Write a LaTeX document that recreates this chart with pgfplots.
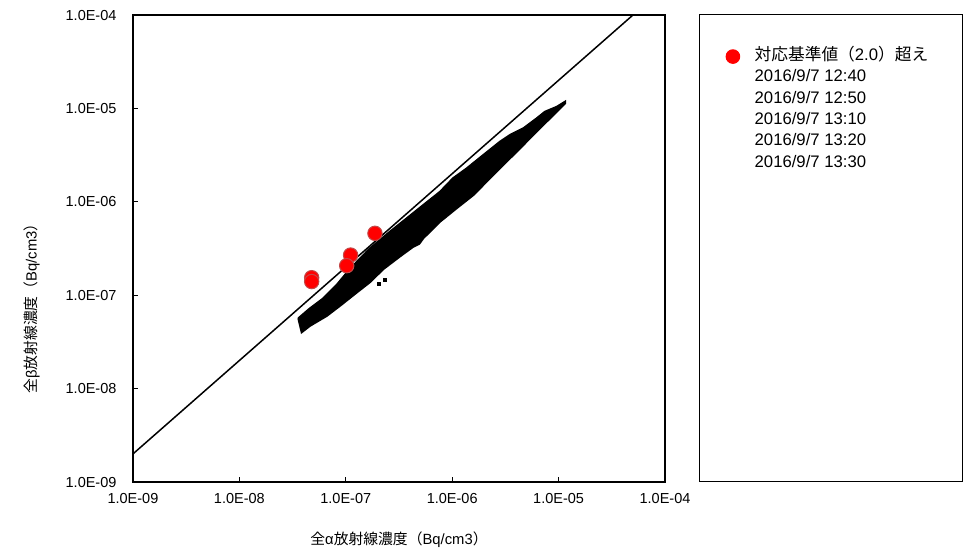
\documentclass[border=0pt]{standalone}
\usepackage{fontspec}
\setmainfont{Liberation Sans}
\newfontfamily\jp{Noto Sans CJK JP}
\usepackage{pgfplots}
\pgfplotsset{compat=1.18}
\definecolor{ptred}{RGB}{255,0,0}
\definecolor{ptedge}{RGB}{196,72,72}

\begin{document}
\begin{tikzpicture}
\useasboundingbox (-133pt,-70pt) rectangle (831pt,482pt);
\begin{axis}[
    scale only axis,
    width=532pt, height=467pt,
    xmode=log, ymode=log,
    xmin=1e-9, xmax=1e-4,
    ymin=1e-9, ymax=1e-4,
    xtick={1e-9,1e-8,1e-7,1e-6,1e-5,1e-4},
    ytick={1e-9,1e-8,1e-7,1e-6,1e-5,1e-4},
    xticklabels={1.0E-09,1.0E-08,1.0E-07,1.0E-06,1.0E-05,1.0E-04},
    yticklabels={1.0E-09,1.0E-08,1.0E-07,1.0E-06,1.0E-05,1.0E-04},
    xminorticks=false, yminorticks=false,
    tick pos=left, tick align=inside,
    major tick length=5pt,
    every tick/.style={black, line width=1pt},
    axis line style={line width=1.2pt},
    ticklabel style={font=\fontsize{14.5pt}{17pt}\selectfont},
    xticklabel style={yshift=-8pt},
    yticklabel style={xshift=-13pt},
    xlabel={{\jp 全}α{\jp 放射線濃度（}Bq/cm3{\jp ）}},
    ylabel={{\jp 全}β{\jp 放射線濃度（}Bq/cm3{\jp ）}},
    xlabel style={at={(axis description cs:0.5,-0.1242)}, anchor=center, font=\fontsize{14.8pt}{17pt}\selectfont},
    ylabel style={at={(axis description cs:-0.19,0.379)}, anchor=center, font=\fontsize{14.8pt}{17pt}\selectfont},
    legend style={at={(rel axis cs:1.1056,0.935)}, anchor=north west, draw=none, fill=none,
        font=\fontsize{16.7pt}{19pt}\selectfont, row sep=3.3pt, column sep=14pt,
        nodes={inner sep=1pt, text height=12pt, text depth=4pt}},
    legend cell align=left,
]
% band of all measured points
\addplot[fill=black, draw=black, line width=2pt, forget plot] coordinates {
(3.58e-8,5.66e-8) (4.61e-8,7.24e-8) (6.15e-8,9.26e-8) (8.21e-8,1.29e-7)
(9.83e-8,1.65e-7) (1.27e-7,2.28e-7) (1.69e-7,3.18e-7) (2.60e-7,4.79e-7)
(3.74e-7,6.66e-7) (5.35e-7,9.24e-7) (7.68e-7,1.28e-6) (1.02e-6,1.79e-6)
(1.37e-6,2.28e-6) (1.96e-6,3.17e-6) (2.81e-6,4.40e-6) (3.49e-6,5.19e-6)
(4.66e-6,6.12e-6) (6.23e-6,7.83e-6) (7.45e-6,9.22e-6) (9.60e-6,1.04e-5)
(1.15e-5,1.18e-5)
(1.15e-5,1.13e-5) (9.60e-6,9.22e-6) (7.18e-6,6.64e-6) (5.39e-6,4.79e-6)
(4.04e-6,3.44e-6) (3.02e-6,2.48e-6) (2.27e-6,1.79e-6) (1.58e-6,1.18e-6)
(1.10e-6,8.52e-7) (7.68e-7,6.12e-7) (5.35e-7,4.07e-7) (4.90e-7,3.55e-7)
(4.30e-7,3.30e-7) (3.23e-7,2.60e-7) (2.25e-7,1.90e-7) (1.69e-7,1.38e-7)
(1.27e-7,1.07e-7) (8.82e-8,7.70e-8) (6.62e-8,6.00e-8) (4.61e-8,4.70e-8)
(3.85e-8,4.01e-8) (3.58e-8,5.66e-8)
};
\addplot[only marks, mark=square*, mark size=1.5pt, black, forget plot] coordinates {
(2.34e-7,1.45e-7) (2.02e-7,1.34e-7) (4.60e-7,3.70e-7)
};
% beta/alpha = 2.0
\addplot[black, line width=1.5pt, forget plot] coordinates {(1e-9,2e-9) (5e-5,1e-4)};
% points above the 2.0 ratio
\addplot[only marks, mark=*, mark size=7.2pt, fill=ptred, draw=ptedge, line width=1pt,
    legend image post style={draw=ptred, mark size=6.8pt}]
coordinates {
(4.78e-8,1.54e-7) (4.78e-8,1.40e-7) (1.11e-7,2.69e-7) (1.02e-7,2.07e-7) (1.88e-7,4.60e-7)
};
\addlegendentry{{\jp 対応基準値（}2.0{\jp ）超え}}
\addlegendimage{empty legend}\addlegendentry{2016/9/7 12:40}
\addlegendimage{empty legend}\addlegendentry{2016/9/7 12:50}
\addlegendimage{empty legend}\addlegendentry{2016/9/7 13:10}
\addlegendimage{empty legend}\addlegendentry{2016/9/7 13:20}
\addlegendimage{empty legend}\addlegendentry{2016/9/7 13:30}
\end{axis}
\draw[line width=1pt] (566pt,1pt) rectangle (829.5pt,467pt);
\end{tikzpicture}
\end{document}
